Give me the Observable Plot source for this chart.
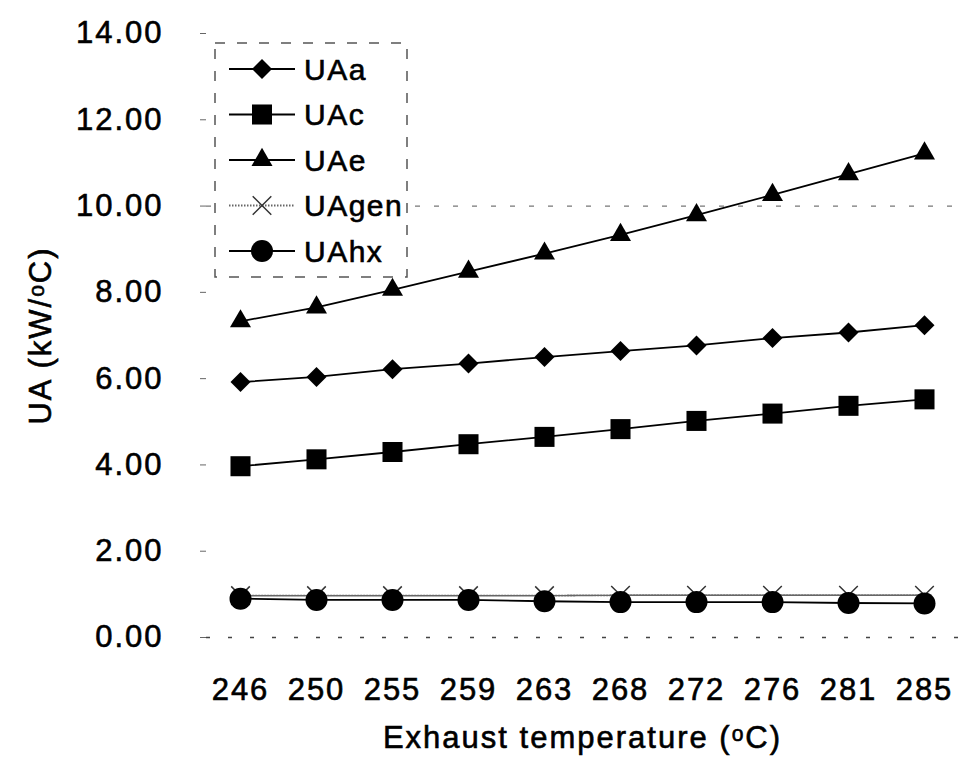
<!DOCTYPE html>
<html><head><meta charset="utf-8">
<script src="https://cdn.jsdelivr.net/npm/d3@7"></script>
<script src="https://cdn.jsdelivr.net/npm/@observablehq/plot@0.6"></script>
<style>
body{margin:0;background:#fff;font-family:"Liberation Sans",Arial,sans-serif;}
#wrap{position:relative;width:959px;height:760px;overflow:hidden;}
#legend{position:absolute;left:214px;top:42px;}
#wrap svg text{stroke:black;stroke-width:0.6px;}
</style></head><body><div id="wrap"></div>
<script>
// Exhaust temperature categories (°C)
const temps = ["246","250","255","259","263","268","272","276","281","285"];
// UA values (kW/°C)
const UAa   = [5.92,6.04,6.22,6.35,6.50,6.64,6.77,6.94,7.07,7.24];
const UAc   = [3.97,4.13,4.30,4.48,4.65,4.83,5.02,5.19,5.37,5.52];
const UAe   = [7.33,7.65,8.06,8.48,8.90,9.33,9.79,10.26,10.74,11.22];
const UAgen = [0.97,0.97,0.97,0.97,0.97,0.98,0.98,0.98,0.98,0.98];
const UAhx  = [0.90,0.87,0.87,0.87,0.84,0.82,0.82,0.82,0.80,0.79];
const seriesNames = ["UAa","UAc","UAe","UAgen","UAhx"];
const yTicks = [0,2,4,6,8,10,12,14];

const styles = {
  UAa:   {symbol:"diamond2", r:9,   fill:"black", stroke:"none", line:"black", dash:null},
  UAc:   {symbol:"square",   r:11.3,fill:"black", stroke:"none", line:"black", dash:null},
  UAe:   {symbol:"triangle", r:7.8, fill:"black", stroke:"none", line:"black", dash:null},
  UAgen: {symbol:"times",    r:8.5, fill:"none",  stroke:"#333", line:"#666", dash:"1.5,1.5"},
  UAhx:  {symbol:"circle",   r:11,  fill:"black", stroke:"none", line:"black", dash:null}
};
const valuesByName = {UAa, UAc, UAe, UAgen, UAhx};
const rows = seriesNames.flatMap(n => temps.map((t,i)=>({temp:t, value:valuesByName[n][i], name:n})));

const FONT = "Liberation Sans, Arial, sans-serif";
const marks = [
  Plot.ruleY([10], {stroke:"#777", strokeWidth:1.2, strokeDasharray:"5,14"}),
  Plot.ruleY([0], {stroke:"#444", strokeWidth:1.5, strokeDasharray:"4,18"}),
];
for (const n of ["UAgen","UAhx","UAc","UAa","UAe"]) {
  const s = styles[n];
  const d = rows.filter(r => r.name === n);
  marks.push(Plot.line(d, {x:"temp", y:"value", stroke:s.line, strokeWidth:1.8, strokeDasharray:s.dash}));
  marks.push(Plot.dot(d, {x:"temp", y:"value", symbol:()=>s.symbol, r:s.r, fill:s.fill, stroke:s.stroke, strokeWidth:1.5}));
}
marks.push(Plot.axisY({ticks:yTicks, tickFormat:d=>d.toFixed(2), tickSize:6, tickPadding:37, fontSize:31,
  stroke:"#666", label:"UA (kW/\u1D52C)", labelAnchor:"center", labelOffset:178, labelArrow:"none"}));
marks.push(Plot.axisX({tickSize:0, tickPadding:40, fontSize:31,
  label:"Exhaust temperature (\u1D52C)", labelAnchor:"center", labelOffset:110, labelArrow:"none"}));

const chart = Plot.plot({
  width:959, height:760,
  marginLeft:206, marginRight:1, marginTop:33, marginBottom:123,
  style:{fontFamily:FONT, background:"white", color:"black", letterSpacing:"2px"},
  x:{type:"point", domain:temps, padding:0.4186},
  y:{domain:[0,14]},
  symbol:{type:"identity"},
  marks
});
document.getElementById("wrap").appendChild(chart);

// Legend overlay
const lw = 194, lh = 236;
const leg = d3.select("#wrap").append("svg").attr("id","legend").attr("width",lw).attr("height",lh)
  .style("font-family",FONT);
leg.append("rect").attr("x",1).attr("y",1).attr("width",lw-2).attr("height",lh-2)
  .attr("fill","white").attr("stroke","#555").attr("stroke-width",1.5).attr("stroke-dasharray","10,12");
const symMap = {diamond2:d3.symbolDiamond2, square:d3.symbolSquare, triangle:d3.symbolTriangle, times:d3.symbolTimes, circle:d3.symbolCircle};
seriesNames.forEach((n,i)=>{
  const s = styles[n];
  const y = 27 + i*45.5;
  leg.append("line").attr("x1",15).attr("x2",81).attr("y1",y).attr("y2",y)
    .attr("stroke",s.line).attr("stroke-width",1.8).attr("stroke-dasharray",s.dash);
  leg.append("path").attr("transform",`translate(48,${y})`)
    .attr("d", d3.symbol(symMap[s.symbol], Math.PI*s.r*s.r)())
    .attr("fill",s.fill).attr("stroke",s.stroke).attr("stroke-width",1.5);
  leg.append("text").attr("x",90).attr("y",y).attr("dy","0.36em").attr("font-size",30)
    .attr("letter-spacing","1.5px").text(n);
});
</script>
</body></html>
